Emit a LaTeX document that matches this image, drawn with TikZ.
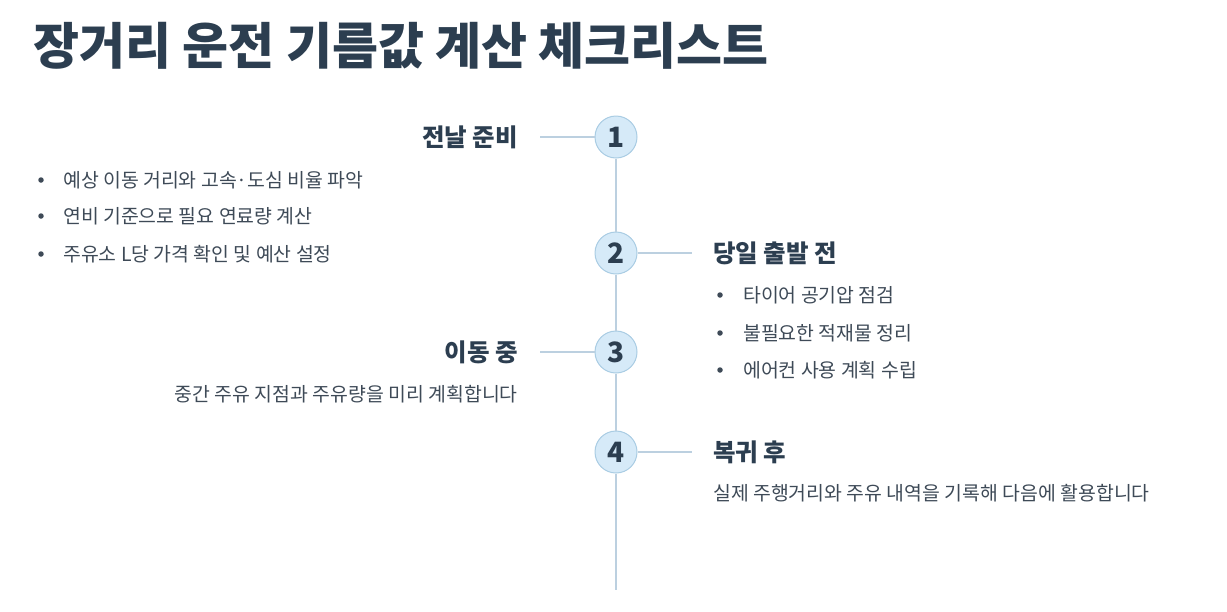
\documentclass[tikz,border=0pt]{standalone}
\usepackage{fontspec}
\setmainfont{Noto Sans CJK KR}
\definecolor{inkc}{HTML}{2C3E50}
\definecolor{bodyc}{HTML}{3E4A57}
\definecolor{circc}{HTML}{D6EAF8}
\definecolor{ringc}{HTML}{A9CCE3}
\definecolor{linec}{HTML}{BCD0E0}
\begin{document}
\begin{tikzpicture}[
  x=1pt, y=-1pt,
  num/.style={
    circle,
    draw=ringc,
    fill=circc,
    line width=1pt,
    minimum size=42pt,
    inner sep=0pt,
    text=inkc,
    font=\fontsize{28}{28}\selectfont\bfseries
  },
  head/.style={inner sep=0pt, text=inkc, font=\fontsize{24.5}{28}\selectfont\bfseries},
  item/.style={inner sep=0pt, text=bodyc, font=\fontsize{19.4}{23}\selectfont},
  dot/.style={circle, fill=bodyc, inner sep=0pt, minimum size=5.5pt},
  link/.style={draw=linec, line width=2pt}
]
\useasboundingbox (0,0) rectangle (1227,611);

\node[anchor=base west, inner sep=0pt, text=inkc, font=\fontsize{50}{54}\selectfont\bfseries]
  at (33,64) (title) {장거리 운전 기름값 계산 체크리스트};

% timeline
\node[num] at (616,137) (c1) {1};
\node[num] at (616,253) (c2) {2};
\node[num] at (616,352) (c3) {3};
\node[num] at (616,452) (c4) {4};
\coordinate (end) at (616,590);

\draw[link] (c1) -- (c2);
\draw[link] (c2) -- (c3);
\draw[link] (c3) -- (c4);
\draw[link] (c4) -- (end);

\coordinate (k1) at (540,137);
\coordinate (k2) at (692,253);
\coordinate (k3) at (540,352);
\coordinate (k4) at (692,452);
\draw[link] (c1) -- (k1);
\draw[link] (c2) -- (k2);
\draw[link] (c3) -- (k3);
\draw[link] (c4) -- (k4);

% steps
\node[head, anchor=base east] at (518,146.5) (t1) {전날 준비};
\node[dot] at (41,180) (b11) {};
\node[item, anchor=base west] at (63,187.5) (i11) {예상 이동 거리와 고속·도심 비율 파악};
\node[dot] at (41,216) (b12) {};
\node[item, anchor=base west] at (63,223.5) (i12) {연비 기준으로 필요 연료량 계산};
\node[dot] at (41,254) (b13) {};
\node[item, anchor=base west] at (63,261.5) (i13) {주유소 L당 가격 확인 및 예산 설정};

\node[head, anchor=base west] at (713,262.5) (t2) {당일 출발 전};
\node[dot] at (720,295) (b21) {};
\node[item, anchor=base west] at (743,302.5) (i21) {타이어 공기압 점검};
\node[dot] at (720,333) (b22) {};
\node[item, anchor=base west] at (743,340.5) (i22) {불필요한 적재물 정리};
\node[dot] at (720,370) (b23) {};
\node[item, anchor=base west] at (743,377.5) (i23) {에어컨 사용 계획 수립};

\node[head, anchor=base east] at (518,361.5) (t3) {이동 중};
\node[item, anchor=base east] at (518,401.5) (d3) {중간 주유 지점과 주유량을 미리 계획합니다};

\node[head, anchor=base west] at (713,461.5) (t4) {복귀 후};
\node[item, anchor=base west] at (713,500.5) (d4) {실제 주행거리와 주유 내역을 기록해 다음에 활용합니다};
\end{tikzpicture}
\end{document}
